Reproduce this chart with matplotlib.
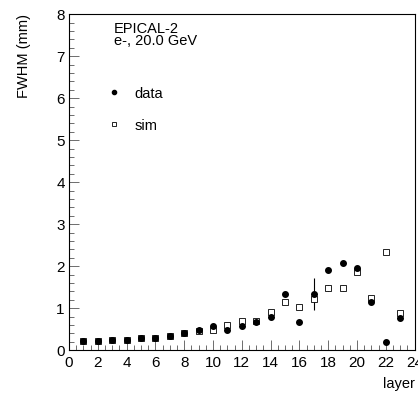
import numpy as np
import matplotlib.pyplot as plt
from matplotlib.ticker import MultipleLocator

plt.rcParams['font.family'] = ['Liberation Sans', 'DejaVu Sans']

layers = np.arange(1, 24)
data_fwhm = [0.21, 0.23, 0.24, 0.25, 0.28, 0.29, 0.34, 0.42, 0.48, 0.57, 0.49,
             0.58, 0.66, 0.79, 1.33, 0.68, 1.33, 1.91, 2.07, 1.96, 1.15, 0.20, 0.77]
data_err = [0.01, 0.01, 0.01, 0.01, 0.01, 0.01, 0.01, 0.01, 0.01, 0.01, 0.01,
            0.01, 0.01, 0.02, 0.02, 0.02, 0.38, 0.03, 0.04, 0.03, 0.02, 0.01, 0.02]
sim_fwhm = [0.21, 0.23, 0.24, 0.25, 0.28, 0.30, 0.34, 0.42, 0.45, 0.48, 0.61,
            0.69, 0.69, 0.90, 1.14, 1.03, 1.23, 1.48, 1.49, 1.87, 1.25, 2.33, 0.88]
sim_err = [0.01, 0.01, 0.01, 0.01, 0.01, 0.01, 0.01, 0.01, 0.01, 0.01, 0.01,
           0.01, 0.01, 0.02, 0.02, 0.02, 0.05, 0.07, 0.07, 0.03, 0.03, 0.03, 0.02]

fig = plt.figure(figsize=(4.18, 3.93), dpi=100)
ax = fig.add_axes([0.165, 0.109, 0.827, 0.855])

ax.errorbar(layers, sim_fwhm, yerr=sim_err, fmt='s', ms=4, mfc='white', mec='black',
            mew=0.6, ecolor='black', elinewidth=0.8, capsize=0)
ax.errorbar(layers, data_fwhm, yerr=data_err, fmt='o', ms=4, color='black',
            ecolor='black', elinewidth=0.8, capsize=0)

ax.set_xlim(0, 24)
ax.set_ylim(0, 8)
ax.xaxis.set_major_locator(MultipleLocator(2))
ax.xaxis.set_minor_locator(MultipleLocator(0.5))
ax.yaxis.set_major_locator(MultipleLocator(1))
ax.yaxis.set_minor_locator(MultipleLocator(0.2))
ax.tick_params(which='both', direction='in', labelsize=11, width=0.6, color='#555555')
ax.tick_params(which='major', length=7, pad=3)
ax.tick_params(which='minor', length=3.5)
ax.tick_params(axis='x', pad=4)
for s in ax.spines.values():
    s.set_linewidth(0.8)

ax.set_ylabel('FWHM (mm)', fontsize=10.5, loc='top', labelpad=18)
ax.set_xlabel('layer', fontsize=10.5, loc='right', labelpad=5)

ax.text(0.13, 0.978, 'EPICAL-2\ne-, 20.0 GeV', transform=ax.transAxes, fontsize=10.5,
        va='top', ha='left', linespacing=0.88)

leg_x = 0.13
ax.plot([leg_x], [0.768], 'o', ms=3, color='black', transform=ax.transAxes)
ax.text(leg_x + 0.06, 0.762, 'data', transform=ax.transAxes, fontsize=10.5, va='center')
ax.plot([leg_x], [0.673], 's', ms=3, mfc='white', mec='black', mew=0.6, transform=ax.transAxes)
ax.text(leg_x + 0.06, 0.668, 'sim', transform=ax.transAxes, fontsize=10.5, va='center')

fig.savefig('out.png', dpi=100)
